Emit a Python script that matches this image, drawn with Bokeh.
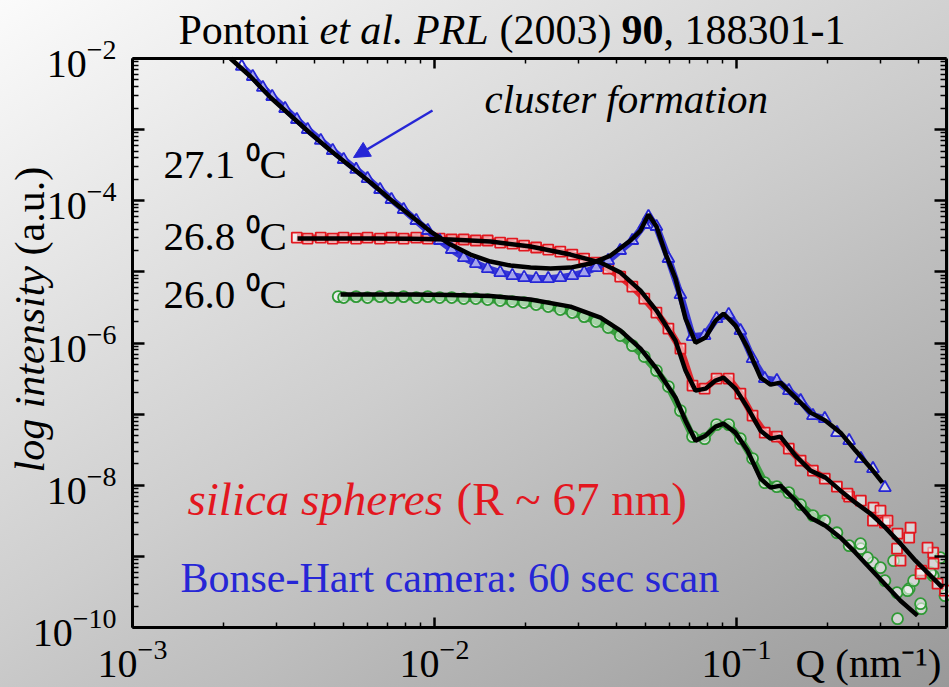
from math import pi, log10
from bokeh.plotting import figure
from bokeh.models import LogAxis, FixedTicker, Label, Arrow, NormalHead
from bokeh.embed import file_html
from bokeh.resources import INLINE

# ---------------- data ----------------
# fits (black lines)
Q_FIT_271 = [0.002111, 0.002459, 0.002864, 0.003337, 0.003885, 0.004524, 0.005271, 0.006140, 0.007149,
             0.008325, 0.009700, 0.011298, 0.013155, 0.015323, 0.017853, 0.020790, 0.024214, 0.028200,
             0.032850, 0.038260, 0.044570, 0.048100, 0.051120, 0.054330, 0.058190, 0.062810, 0.067790,
             0.073160, 0.078950, 0.085210, 0.090570, 0.099240, 0.108750, 0.120130, 0.129650, 0.139870,
             0.156800, 0.175800, 0.197100, 0.221000, 0.247700, 0.277700, 0.304200]
I_FIT_271 = [1.00e-2, 5.58e-3, 2.83e-3, 1.579e-3, 8.81e-4, 5.08e-4, 3.03e-4, 1.803e-4, 1.040e-4,
             6.19e-5, 3.69e-5, 2.42e-5, 1.751e-5, 1.396e-5, 1.226e-5, 1.149e-5, 1.113e-5, 1.149e-5,
             1.308e-5, 1.696e-5, 2.76e-5, 3.81e-5, 6.39e-5, 4.34e-5, 1.81e-5, 8.04e-6, 2.20e-6,
             1.01e-6, 1.191e-6, 2.065e-6, 2.59e-6, 1.757e-6, 8.62e-7, 3.26e-7, 2.60e-7, 2.77e-7,
             1.706e-7, 1.050e-7, 8.10e-8, 5.49e-8, 3.07e-8, 1.768e-8, 1.088e-8]

Q_FIT_268 = [0.003519, 0.004524, 0.006140, 0.008325, 0.011298, 0.015323, 0.020790, 0.028200, 0.035450,
             0.041290, 0.048100, 0.054330, 0.062810, 0.067790, 0.073160, 0.078950, 0.085210, 0.090570,
             0.099240, 0.108750, 0.120130, 0.129650, 0.139870, 0.156800, 0.175800, 0.197100, 0.221000,
             0.247700, 0.277700, 0.311300, 0.349100, 0.391500, 0.438900, 0.480900]
I_FIT_268 = [2.94e-5, 2.94e-5, 2.94e-5, 2.92e-5, 2.85e-5, 2.67e-5, 2.27e-5, 1.751e-5, 1.351e-5,
             9.78e-6, 5.46e-6, 2.86e-6, 1.081e-6, 4.09e-7, 2.14e-7, 2.28e-7, 2.96e-7, 3.26e-7,
             2.28e-7, 1.234e-7, 5.86e-8, 4.52e-8, 4.83e-8, 2.61e-8, 1.605e-8, 1.279e-8, 8.40e-9,
             5.69e-9, 3.99e-9, 2.53e-9, 1.509e-9, 8.70e-10, 5.35e-10, 3.63e-10]

Q_FIT_260 = [0.004884, 0.006140, 0.008325, 0.011298, 0.015323, 0.020790, 0.028200, 0.035450, 0.041290,
             0.048100, 0.054330, 0.062810, 0.067790, 0.073160, 0.078950, 0.085210, 0.090570, 0.099240,
             0.108750, 0.120130, 0.129650, 0.139870, 0.156800, 0.175800, 0.197100, 0.221000, 0.247700,
             0.277700, 0.311300, 0.349100, 0.397500]
I_FIT_260 = [4.79e-6, 4.79e-6, 4.79e-6, 4.72e-6, 4.57e-6, 4.08e-6, 3.25e-6, 2.28e-6, 1.494e-6,
             8.34e-7, 4.36e-7, 1.706e-7, 8.10e-8, 4.24e-8, 4.98e-8, 6.67e-8, 7.35e-8, 5.49e-8,
             3.07e-8, 1.238e-8, 9.25e-9, 9.87e-9, 6.07e-9, 3.50e-9, 2.70e-9, 1.832e-9, 1.127e-9,
             6.71e-10, 4.00e-10, 2.38e-10, 1.466e-10]

# measured points
Q_DAT_271 = [0.0023, 0.0025, 0.0027, 0.0029, 0.0032, 0.0035, 0.0038, 0.0042, 0.0046, 0.0050,
             0.0055, 0.0060, 0.0066, 0.0072, 0.0079, 0.0087, 0.0095, 0.0104, 0.0114, 0.0125, 0.0137,
             0.0150, 0.0165, 0.0181, 0.0198, 0.0217, 0.0238, 0.0261, 0.0286, 0.0313, 0.0343, 0.0376,
             0.0412, 0.0452, 0.0495, 0.0511, 0.0543, 0.0595, 0.0652, 0.0715, 0.0784, 0.0859, 0.0942,
             0.103, 0.113, 0.124, 0.136, 0.149, 0.163, 0.179, 0.196, 0.215, 0.236, 0.258, 0.283, 0.310]
I_DAT_271 = [7.72e-3, 5.58e-3, 3.91e-3, 2.92e-3, 1.98e-3, 1.387e-3, 1.003e-3, 7.03e-4, 5.08e-4,
             3.80e-4, 2.75e-4, 2.05e-4, 1.437e-4, 1.040e-4, 7.52e-5, 5.27e-5, 3.81e-5, 2.76e-5, 2.06e-5,
             1.589e-5, 1.308e-5, 1.113e-5, 9.78e-6, 8.87e-6, 8.31e-6, 8.04e-6, 8.04e-6, 8.31e-6, 8.87e-6,
             9.78e-6, 1.149e-5, 1.442e-5, 1.994e-5, 2.76e-5, 4.63e-5, 5.99e-5, 4.34e-5, 1.539e-5, 4.79e-6,
             1.230e-6, 1.271e-6, 2.20e-6, 2.51e-6, 1.494e-6, 6.03e-7, 3.16e-7, 2.96e-7, 2.14e-7, 1.548e-7,
             9.53e-8, 8.64e-8, 5.49e-8, 4.24e-8, 2.37e-8, 1.712e-8, 9.25e-9]

Q_DAT_268 = [0.0035, 0.0038, 0.0042, 0.0046, 0.0050, 0.0055, 0.0060, 0.0066, 0.0072, 0.0079, 0.0087,
             0.0095, 0.0104, 0.0114, 0.0125, 0.0137, 0.0150, 0.0165, 0.0181, 0.0198, 0.0217, 0.0238,
             0.0261, 0.0286, 0.0313, 0.0343, 0.0376, 0.0412, 0.0452, 0.0495, 0.0543, 0.0595, 0.0652,
             0.0715, 0.0784, 0.0859, 0.0942, 0.103, 0.113, 0.124, 0.136, 0.149, 0.163, 0.179, 0.196,
             0.215, 0.236, 0.258, 0.283, 0.310, 0.340, 0.373, 0.409, 0.448, 0.490]
I_DAT_268 = [3.04e-5, 2.94e-5, 3.04e-5, 2.94e-5, 3.04e-5, 2.94e-5, 3.04e-5, 2.94e-5, 3.04e-5, 2.94e-5,
             3.04e-5, 2.94e-5, 2.94e-5, 2.85e-5, 2.85e-5, 2.76e-5, 2.76e-5, 2.58e-5, 2.50e-5, 2.34e-5,
             2.20e-5, 2.06e-5, 1.93e-5, 1.751e-5, 1.539e-5, 1.351e-5, 1.113e-5, 8.59e-6, 6.21e-6, 4.21e-6,
             2.68e-6, 1.594e-6, 8.34e-7, 2.52e-7, 2.28e-7, 3.16e-7, 3.16e-7, 1.942e-7, 9.53e-8, 5.49e-8,
             4.83e-8, 3.27e-8, 2.22e-8, 1.605e-8, 1.238e-8, 9.56e-9, 6.91e-9, 6.07e-9, 3.18e-9, 2.98e-9,
             1.283e-9, 1.832e-9, 6.29e-10, 1.127e-9, 3.29e-10]
Q_EXT_268 = [0.2331, 0.2841, 0.2997, 0.3162, 0.3413, 0.3491, 0.3770, 0.4068, 0.4290, 0.4491, 0.4631]
I_EXT_268 = [7.62e-9, 4.84e-9, 4.39e-9, 3.18e-9, 2.09e-9, 8.70e-10, 2.53e-9, 5.71e-10, 1.326e-9, 7.89e-10, 4.13e-10]

Q_DAT_260 = [0.0048, 0.0050, 0.0055, 0.0060, 0.0066, 0.0072, 0.0079, 0.0087, 0.0095, 0.0104, 0.0114,
             0.0125, 0.0137, 0.0150, 0.0165, 0.0181, 0.0198, 0.0217, 0.0238, 0.0261, 0.0286, 0.0313,
             0.0343, 0.0376, 0.0412, 0.0452, 0.0495, 0.0543, 0.0595, 0.0652, 0.0715, 0.0784, 0.0859,
             0.0942, 0.103, 0.113, 0.124, 0.136, 0.149, 0.163, 0.179, 0.196, 0.215, 0.236, 0.258,
             0.283, 0.310, 0.340, 0.373, 0.409, 0.448, 0.490]
I_DAT_260 = [4.49e-6, 4.35e-6, 4.49e-6, 4.35e-6, 4.49e-6, 4.35e-6, 4.49e-6, 4.35e-6, 4.49e-6, 4.35e-6,
             4.35e-6, 4.21e-6, 4.21e-6, 4.08e-6, 3.95e-6, 3.82e-6, 3.70e-6, 3.47e-6, 3.25e-6, 2.95e-6,
             2.68e-6, 2.35e-6, 2.00e-6, 1.647e-6, 1.271e-6, 9.19e-7, 6.44e-7, 4.09e-7, 2.44e-7, 1.120e-7,
             4.83e-8, 4.52e-8, 7.12e-8, 7.12e-8, 4.52e-8, 2.37e-8, 1.088e-8, 9.56e-9, 7.87e-9, 5.33e-9,
             3.74e-9, 3.18e-9, 2.15e-9, 1.414e-9, 1.283e-9, 8.15e-10, 4.55e-10, 3.09e-10, 3.51e-10,
             1.838e-10, 5.35e-10, 2.80e-10]
Q_EXT_260 = [0.2574, 0.2715, 0.2997, 0.3311, 0.3413, 0.3684, 0.3857, 0.4068, 0.4389, 0.4735]
I_EXT_260 = [1.509e-9, 9.59e-10, 6.94e-10, 8.70e-10, 1.33e-10, 3.29e-10, 4.55e-10, 2.16e-10, 5.90e-10, 9.59e-10]

X_MAJOR = [1e-3, 1e-2, 1e-1]
X_MINOR = [2e-3, 3e-3, 4e-3, 5e-3, 6e-3, 7e-3, 8e-3, 9e-3,
           2e-2, 3e-2, 4e-2, 5e-2, 6e-2, 7e-2, 8e-2, 9e-2,
           2e-1, 3e-1, 4e-1]
Y_MAJOR = [1e-10, 1e-9, 1e-8, 1e-7, 1e-6, 1e-5, 1e-4, 1e-3, 1e-2]
Y_UNLABELLED = [1e-9, 1e-7, 1e-5, 1e-3]
Y_MINOR = [m * 10.0 ** k for k in range(-10, -2) for m in range(2, 10)]

BLUE = "#2626d6"
RED = "#e3171f"
GREEN = "#2f9a35"
SERIF = "Liberation Serif, Times New Roman, serif"

# ---------------- layout: the axes box inside a full-canvas frame ----------------
W, H = 949, 687
QMIN, QMAX = 1e-3, 0.4958          # axes box, x
IMIN, IMAX = 1e-10, 1e-2           # axes box, y
BOX_L, BOX_R, BOX_T, BOX_B = 132, 946, 58, 627   # its pixel position in the picture
DX = (log10(QMAX) - log10(QMIN)) / (BOX_R - BOX_L)
DY = (log10(IMAX) - log10(IMIN)) / (BOX_B - BOX_T)
X_RANGE = (10 ** (log10(QMIN) - BOX_L * DX), 10 ** (log10(QMAX) + (W - BOX_R) * DX))
Y_RANGE = (10 ** (log10(IMIN) - (H - BOX_B) * DY), 10 ** (log10(IMAX) + BOX_T * DY))


def at(px, py):
    """data coordinates of a pixel position of the picture (for text placement)"""
    return 10 ** (log10(QMIN) + (px - BOX_L) * DX), 10 ** (log10(IMAX) - (py - BOX_T) * DY)


p = figure(width=W, height=H, x_axis_type="log", y_axis_type="log",
           x_range=X_RANGE, y_range=Y_RANGE, title=None,
           output_backend="svg", toolbar_location=None, min_border=0)
p.border_fill_color = None
p.background_fill_color = None
p.styles = {"background": "linear-gradient(149deg, #fbfbfb 0%, #cdcdcd 50%, #999999 100%)"}
p.outline_line_color = None
p.grid.visible = False

xt = FixedTicker(ticks=X_MAJOR, minor_ticks=X_MINOR)
yt = FixedTicker(ticks=Y_MAJOR, minor_ticks=Y_MINOR)


def style(ax, tick_in, minor_in, show_labels):
    ax.axis_line_width = 3
    ax.axis_line_color = "black"
    ax.major_tick_in = tick_in
    ax.major_tick_out = 0
    ax.minor_tick_in = minor_in
    ax.minor_tick_out = 0
    ax.major_tick_line_width = 2.5
    ax.minor_tick_line_width = 1.5
    ax.major_label_text_font = SERIF
    ax.major_label_text_color = "black"
    if show_labels:
        ax.major_label_text_font_size = "40px"
    else:
        ax.major_label_text_font_size = "1px"
        ax.major_label_text_alpha = 0
        ax.major_label_standoff = 0


xa = p.xaxis[0]
xa.ticker = xt
xa.fixed_location = IMIN
xa.bounds = (QMIN, QMAX)
style(xa, 10, 5, True)
xa.major_label_standoff = 12

ya = p.yaxis[0]
ya.ticker = yt
ya.fixed_location = QMIN
ya.bounds = (IMIN, IMAX)
style(ya, 12, 6, True)
ya.major_label_standoff = 16
ya.major_label_overrides = {v: " " for v in Y_UNLABELLED}

top = LogAxis(ticker=xt, fixed_location=IMAX, bounds=(QMIN, QMAX))
style(top, 10, 5, False)
p.add_layout(top, "above")
right = LogAxis(ticker=yt, fixed_location=QMAX, bounds=(IMIN, IMAX))
style(right, 12, 6, False)
p.add_layout(right, "right")

# ---------------- data bands, markers, fits ----------------
series = [
    (Q_DAT_260, I_DAT_260, Q_EXT_260, I_EXT_260, GREEN, "circle", 11),
    (Q_DAT_268, I_DAT_268, Q_EXT_268, I_EXT_268, RED, "square", 10),
    (Q_DAT_271, I_DAT_271, [], [], BLUE, "triangle", 12),
]
for q, i, qe, ie, col, mk, sz in series:
    qb = [a for a in q if a < 0.2]
    ib = [b for a, b in zip(q, i) if a < 0.2]
    p.line(qb, ib, line_color=col, line_width=7, line_alpha=0.9)
    p.scatter(q + qe, i + ie, marker=mk, size=sz, line_color=col, line_width=1.8,
              fill_color="white", fill_alpha=0.55)

for q, i in [(Q_FIT_260, I_FIT_260), (Q_FIT_268, I_FIT_268), (Q_FIT_271, I_FIT_271)]:
    p.line(q, i, line_color="black", line_width=4.5)


# ---------------- texts ----------------
BASE_SHIFT = 0.36   # the renderer puts the alphabetic baseline about 0.36 em lower than the anchor


def label(text, px, py, size, color="black", style="normal", angle=0.0):
    if angle:
        px = px - BASE_SHIFT * size
    else:
        py = py - BASE_SHIFT * size
    x, y = at(px, py)
    p.add_layout(Label(x=x, y=y, text=text, text_font=SERIF, text_font_size=f"{size}px",
                       text_font_style=style, text_color=color, text_baseline="alphabetic",
                       text_align="left", angle=angle))


# title
label("Pontoni", 178, 45, 42)
label("et al. PRL", 319, 45, 42, style="italic")
label("(2003)", 499, 45, 42)
label("90", 621, 45, 42, style="bold")
label(", 188301-1", 663, 45, 42)

label("cluster formation", 484, 113, 41, style="italic")
label("27.1 \u2070C", 163, 178, 41)
label("26.8 \u2070C", 163, 250, 41)
label("26.0 \u2070C", 163, 308, 41)
label("silica spheres", 187, 515, 47, color=RED, style="italic")
label("(R ~ 67 nm)", 456, 515, 47, color=RED)
label("Bonse-Hart camera: 60 sec scan", 180, 593, 42, color=BLUE)
label("Q (nm\u207b\u00b9)", 795, 677, 41)
label("log intensity", 45, 472, 42, style="italic", angle=pi / 2)
label("(a.u.)", 45, 255, 42, angle=pi / 2)

xs, ys = at(432, 110)
xe, ye = at(353, 157)
p.add_layout(Arrow(end=NormalHead(size=16, fill_color=BLUE, line_color=BLUE),
                   x_start=xs, y_start=ys, x_end=xe, y_end=ye,
                   line_color=BLUE, line_width=2.5))

open("out.html", "w", encoding="utf-8").write(file_html(p, INLINE))
